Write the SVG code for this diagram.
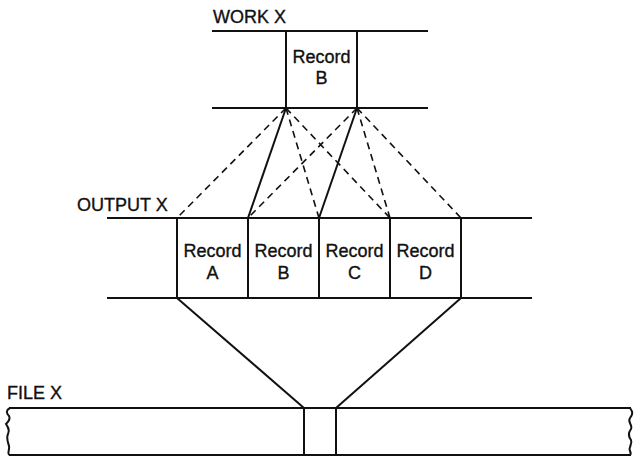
<svg xmlns="http://www.w3.org/2000/svg" width="634" height="457" viewBox="0 0 634 457">
  <style>
    .ln { stroke: #111; stroke-width: 2; fill: none; }
    .dash { stroke: #111; stroke-width: 1.6; fill: none; stroke-dasharray: 7 5; }
    .lbl { font-family: "Liberation Sans", Arial, sans-serif; font-size: 18px; fill: #111; stroke: #111; stroke-width: 0.35; }
    .rec { font-family: "Liberation Sans", Arial, sans-serif; font-size: 18px; fill: #111; stroke: #111; stroke-width: 0.35; text-anchor: middle; }
  </style>
  <rect width="634" height="457" fill="#fff"/>

  <!-- WORK X area -->
  <g id="work-x">
    <text class="lbl" x="213" y="23">WORK X</text>
    <line class="ln" x1="212" y1="31" x2="428" y2="31"/>
    <line class="ln" x1="212" y1="108" x2="428" y2="108"/>
    <line class="ln" x1="286" y1="31" x2="286" y2="108"/>
    <line class="ln" x1="357" y1="31" x2="357" y2="108"/>
  </g>
  <g id="work-record-b">
    <text class="rec" x="321.5" y="63">Record</text>
    <text class="rec" x="321.5" y="84">B</text>
  </g>

  <!-- OUTPUT X area -->
  <g id="output-x">
    <text class="lbl" x="77" y="211">OUTPUT X</text>
    <line class="ln" x1="107" y1="218" x2="532" y2="218"/>
    <line class="ln" x1="107" y1="298" x2="532" y2="298"/>
    <line class="ln" x1="177" y1="218" x2="177" y2="298"/>
    <line class="ln" x1="248" y1="218" x2="248" y2="298"/>
    <line class="ln" x1="319" y1="218" x2="319" y2="298"/>
    <line class="ln" x1="390" y1="218" x2="390" y2="298"/>
    <line class="ln" x1="461" y1="218" x2="461" y2="298"/>
  </g>
  <g id="record-a">
    <text class="rec" x="212.5" y="257">Record</text>
    <text class="rec" x="212.5" y="279">A</text>
  </g>
  <g id="record-b">
    <text class="rec" x="283.5" y="257">Record</text>
    <text class="rec" x="283.5" y="279">B</text>
  </g>
  <g id="record-c">
    <text class="rec" x="354.5" y="257">Record</text>
    <text class="rec" x="354.5" y="279">C</text>
  </g>
  <g id="record-d">
    <text class="rec" x="425.5" y="257">Record</text>
    <text class="rec" x="425.5" y="279">D</text>
  </g>

  <!-- FILE X area -->
  <g id="file-x">
    <text class="lbl" x="7" y="399">FILE X</text>
    <line class="ln" x1="9" y1="408" x2="631" y2="408"/>
    <line class="ln" x1="9" y1="455" x2="631" y2="455"/>
    <path class="ln" d="M10 408 C6 410 6 413 9 416 C11 419 8 422 6 424 C8 427 10 430 8 434 C6 438 8 442 9 446 C10 450 7 452 9 455"/>
    <path class="ln" d="M630 408 C633 412 633 414 630 418 C627 422 633 425 631 429 C628 433 628 436 631 440 C633 444 628 447 630 451 C631 453 631 454 630 455"/>
    <line class="ln" x1="304" y1="408" x2="304" y2="455"/>
    <line class="ln" x1="336" y1="408" x2="336" y2="455"/>
  </g>

  <!-- connectors -->
  <g id="connectors">
    <line class="dash" x1="286" y1="108" x2="177" y2="218"/>
    <line class="ln" x1="286" y1="108" x2="248" y2="218"/>
    <line class="dash" x1="286" y1="108" x2="319" y2="218"/>
    <line class="dash" x1="286" y1="108" x2="390" y2="218"/>
    <line class="dash" x1="357" y1="108" x2="248" y2="218"/>
    <line class="ln" x1="357" y1="108" x2="319" y2="218"/>
    <line class="dash" x1="357" y1="108" x2="390" y2="218"/>
    <line class="dash" x1="357" y1="108" x2="461" y2="218"/>
    <line class="ln" x1="177" y1="298" x2="304" y2="408"/>
    <line class="ln" x1="461" y1="298" x2="336" y2="408"/>
  </g>
</svg>
